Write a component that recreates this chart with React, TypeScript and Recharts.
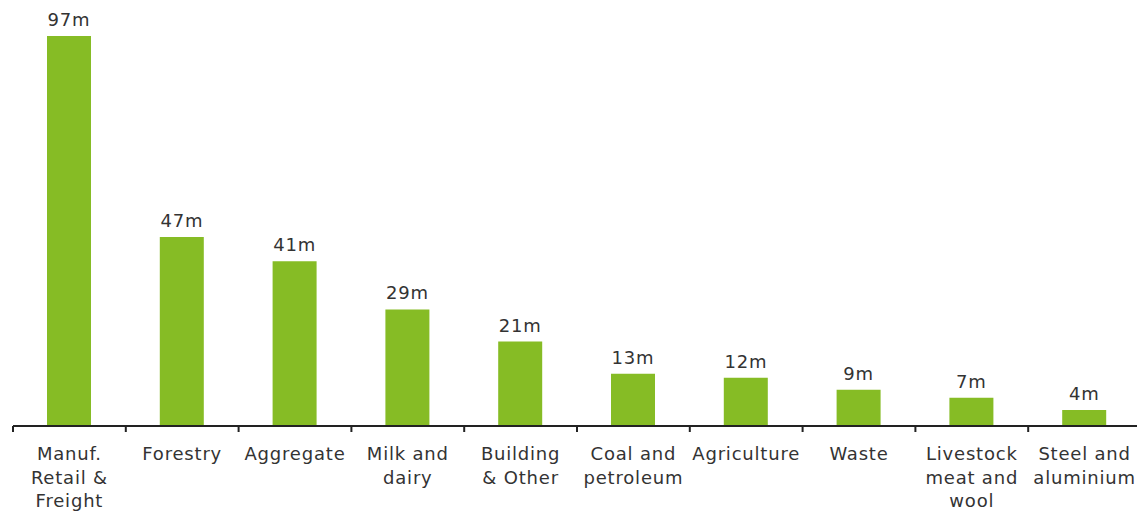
import React from 'react';
import { BarChart, Bar, XAxis, YAxis, LabelList } from 'recharts';

const categories = [
  'Manuf.\nRetail &\nFreight',
  'Forestry',
  'Aggregate',
  'Milk and\ndairy',
  'Building\n& Other',
  'Coal and\npetroleum',
  'Agriculture',
  'Waste',
  'Livestock\nmeat and\nwool',
  'Steel and\naluminium',
];
const values = [97, 47, 41, 29, 21, 13, 12, 9, 7, 4];

const data = categories.map((name, i) => ({ name, value: values[i] }));

// the plot runs a few px past the right edge of the picture
const WIDTH = 1141;
const HEIGHT = 511;
const MARGIN = { top: 36, right: 0, left: 13, bottom: 0 };
const STEP = (WIDTH - MARGIN.left - MARGIN.right) / categories.length;
const FONT = '"DejaVu Sans", Verdana, sans-serif';

const CategoryTick = ({ x, y, payload }: any) => {
  const lines = String(payload.value).split('\n');
  const axisY = y - 8;
  return (
    <g>
      <line x1={x - STEP / 2} x2={x - STEP / 2} y1={axisY} y2={axisY + 6} stroke="#222" strokeWidth={2} />
      <text x={x} y={y} textAnchor="middle" fill="#333" fontSize={18} letterSpacing={0.8} fontFamily={FONT}>
        {lines.map((l, i) => (
          <tspan key={i} x={x} y={y + 26 + i * 23.5}>
            {l}
          </tspan>
        ))}
      </text>
    </g>
  );
};

export default function App() {
  return (
    <div style={{ position: 'absolute', left: 0, top: 0, width: 1137, height: HEIGHT, overflow: 'hidden', background: '#fff' }}>
      <BarChart width={WIDTH} height={HEIGHT} data={data} margin={MARGIN} barSize={44}>
        <XAxis
          dataKey="name"
          interval={0}
          height={85}
          tickLine={false}
          axisLine={{ stroke: '#222', strokeWidth: 2 }}
          tick={<CategoryTick />}
        />
        <YAxis hide domain={[0, 97]} />
        <Bar dataKey="value" fill="#86bc25" isAnimationActive={false}>
          <LabelList
            dataKey="value"
            position="top"
            offset={10}
            formatter={(v: any) => `${v}m`}
            style={{ fill: '#333', fontSize: 18, letterSpacing: 0.8, fontFamily: FONT }}
          />
        </Bar>
      </BarChart>
    </div>
  );
}
